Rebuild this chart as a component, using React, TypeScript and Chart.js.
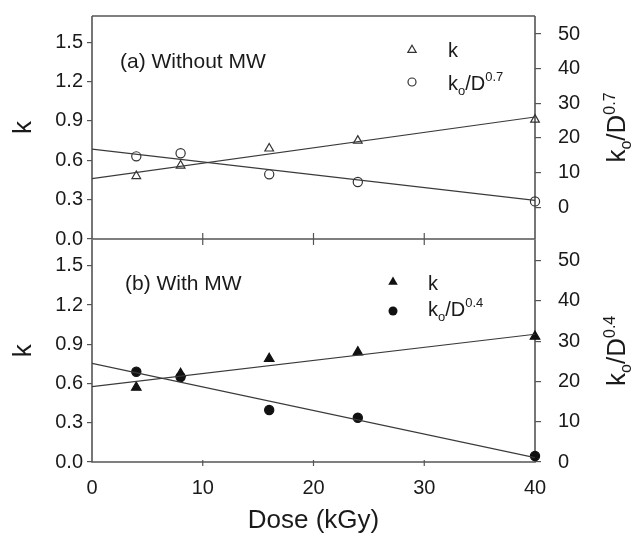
import React, { useEffect, useRef } from 'react';
import { Chart, registerables } from 'chart.js';

Chart.register(...registerables);

// ---------- data ----------
const DOSE = [4, 8, 16, 24, 40];
const FIT_DOSE = [0, 40];

const K_A = [0.48, 0.56, 0.69, 0.75, 0.91];
const KO_A = [14.7, 15.6, 9.5, 7.3, 1.7];
const FIT_K_A = [0.46, 0.93];
const FIT_KO_A = [16.8, 2.0];

const K_B = [0.57, 0.675, 0.79, 0.84, 0.96];
const KO_B = [22.4, 21.1, 12.9, 11.0, 1.5];
const FIT_K_B = [0.576, 0.977];
const FIT_KO_B = [24.5, 1.1];

const K_TICKS = [0, 0.3, 0.6, 0.9, 1.2, 1.5];
const KO_TICKS = [0, 10, 20, 30, 40, 50];
const DOSE_TICKS = [0, 10, 20, 30, 40];

const K_RANGE = [0, 1.7];
const KO_RANGE_A = [-9.15, 55.2];
const KO_RANGE_B = [0, 55.2];

const PANEL_TITLES = ['(a) Without MW', '(b) With MW'];
const EXPONENTS = ['0.7', '0.4'];

// ---------- style ----------
const FONT = '"Liberation Sans", Arial, Helvetica, sans-serif';
const TEXT = '#1a1a1a';
const AXIS = '#555555';
const LINE = '#3a3a3a';
const TICK_SIZE = 20;
const NOTE_SIZE = 21;
const TITLE_SIZE = 26;

type Seg = { text: string; size: number; dy: number };

function drawRich(ctx: CanvasRenderingContext2D, x: number, y: number, segs: Seg[], align: 'left' | 'center') {
  const widths = segs.map((s) => {
    ctx.font = `${s.size}px ${FONT}`;
    return ctx.measureText(s.text).width;
  });
  const total = widths.reduce((a, b) => a + b, 0);
  let cx = align === 'center' ? x - total / 2 : x;
  ctx.textAlign = 'left';
  ctx.textBaseline = 'alphabetic';
  segs.forEach((s, i) => {
    ctx.font = `${s.size}px ${FONT}`;
    ctx.fillText(s.text, cx, y + s.dy);
    cx += widths[i];
  });
}

function koSegs(exp: string, main: number, small: number, sub: number, sup: number): Seg[] {
  return [
    { text: 'k', size: main, dy: 0 },
    { text: 'o', size: small, dy: sub },
    { text: '/D', size: main, dy: 0 },
    { text: exp, size: small, dy: sup },
  ];
}

function drawSymbol(ctx: CanvasRenderingContext2D, style: 'triangle' | 'circle', x: number, y: number, r: number, filled: boolean) {
  ctx.beginPath();
  if (style === 'circle') {
    ctx.arc(x, y, r, 0, Math.PI * 2);
  } else {
    let rad = 0;
    ctx.moveTo(x + Math.sin(rad) * r, y - Math.cos(rad) * r);
    rad += (2 * Math.PI) / 3;
    ctx.lineTo(x + Math.sin(rad) * r, y - Math.cos(rad) * r);
    rad += (2 * Math.PI) / 3;
    ctx.lineTo(x + Math.sin(rad) * r, y - Math.cos(rad) * r);
    ctx.closePath();
  }
  if (filled) {
    ctx.fillStyle = '#111';
    ctx.fill();
  } else {
    ctx.strokeStyle = '#333';
    ctx.lineWidth = 1.2;
    ctx.stroke();
  }
}

function zeroPad(s: any) {
  s.paddingTop = 0;
  s.paddingBottom = 0;
  s.paddingLeft = 0;
  s.paddingRight = 0;
}

type PanelOpts = {
  idx: number;
  k: number[];
  ko: number[];
  fitK: number[];
  fitKo: number[];
  koRange: number[];
  padTop: number;
  xHeight: number;
  showX: boolean;
  filled: boolean;
  drawTop: boolean;
  tickUp: number;
  tickDown: number;
  titlePos: { x: number; y: number };
  legend: { symX: number; textX: number; tri: number; triBase: number; circ: number; circBase: number; triR: number; circR: number };
};

function makeConfig(p: PanelOpts): any {
  const tickFont = { size: TICK_SIZE, family: FONT };
  const decor = {
    id: 'decor' + p.idx,
    beforeDatasetsDraw(chart: any) {
      const { ctx, chartArea: a, scales } = chart;
      ctx.save();
      ctx.strokeStyle = AXIS;
      ctx.lineWidth = 1.6;
      ctx.beginPath();
      if (p.drawTop) {
        ctx.moveTo(a.left, a.top);
        ctx.lineTo(a.right, a.top);
      }
      ctx.moveTo(a.left, a.top);
      ctx.lineTo(a.left, a.bottom);
      ctx.lineTo(a.right, a.bottom);
      ctx.lineTo(a.right, a.top);
      ctx.stroke();
      ctx.lineWidth = 1.2;
      ctx.beginPath();
      scales.x.ticks.forEach((t: any) => {
        const px = scales.x.getPixelForValue(t.value);
        if (px > a.left + 1 && px < a.right - 1) {
          ctx.moveTo(px, a.bottom - p.tickUp);
          ctx.lineTo(px, a.bottom + p.tickDown);
        }
      });
      ctx.stroke();
      ctx.restore();
    },
    afterDraw(chart: any) {
      const { ctx, chartArea: a } = chart;
      ctx.save();
      ctx.fillStyle = TEXT;
      // panel label
      ctx.font = `${NOTE_SIZE}px ${FONT}`;
      ctx.textAlign = 'left';
      ctx.textBaseline = 'alphabetic';
      ctx.fillText(PANEL_TITLES[p.idx], p.titlePos.x, p.titlePos.y);
      // legend
      const L = p.legend;
      drawSymbol(ctx, 'triangle', L.symX, L.tri, L.triR, p.filled);
      drawSymbol(ctx, 'circle', L.symX, L.circ, L.circR, p.filled);
      ctx.fillStyle = TEXT;
      drawRich(ctx, L.textX, L.triBase, [{ text: 'k', size: TICK_SIZE, dy: 0 }], 'left');
      drawRich(ctx, L.textX, L.circBase, koSegs(EXPONENTS[p.idx], TICK_SIZE, 13, 5, -9), 'left');
      // right axis title
      ctx.translate(625, (a.top + a.bottom) / 2);
      ctx.rotate(-Math.PI / 2);
      drawRich(ctx, 0, 0, koSegs(EXPONENTS[p.idx], TITLE_SIZE, 16, 6, -10), 'center');
      ctx.restore();
    },
  };

  const markerK = {
    label: 'k',
    data: DOSE.map((x, i) => ({ x, y: p.k[i] })),
    yAxisID: 'yL',
    pointStyle: 'triangle',
    pointRadius: p.filled ? 5.5 : 5,
    borderColor: p.filled ? '#111' : '#333',
    backgroundColor: p.filled ? '#111' : 'rgba(0,0,0,0)',
    borderWidth: 1.2,
    showLine: false,
    clip: false,
  };
  const markerKo = {
    label: 'ko',
    data: DOSE.map((x, i) => ({ x, y: p.ko[i] })),
    yAxisID: 'yR',
    pointStyle: 'circle',
    pointRadius: 4.6,
    borderColor: p.filled ? '#111' : '#333',
    backgroundColor: p.filled ? '#111' : 'rgba(0,0,0,0)',
    borderWidth: 1.2,
    showLine: false,
    clip: false,
  };
  const fitK = {
    label: 'fitK',
    data: FIT_DOSE.map((x, i) => ({ x, y: p.fitK[i] })),
    yAxisID: 'yL',
    showLine: true,
    pointRadius: 0,
    borderColor: LINE,
    borderWidth: 1.2,
    fill: false,
  };
  const fitKo = {
    label: 'fitKo',
    data: FIT_DOSE.map((x, i) => ({ x, y: p.fitKo[i] })),
    yAxisID: 'yR',
    showLine: true,
    pointRadius: 0,
    borderColor: LINE,
    borderWidth: 1.2,
    fill: false,
  };

  return {
    type: 'scatter',
    data: { datasets: [fitK, fitKo, markerK, markerKo] },
    options: {
      responsive: false,
      animation: false,
      layout: { padding: { top: p.padTop, left: 0, right: 0, bottom: 0 } },
      plugins: { legend: { display: false }, tooltip: { enabled: false } },
      scales: {
        x: {
          type: 'linear',
          min: 0,
          max: 40,
          afterBuildTicks: (s: any) => {
            s.ticks = DOSE_TICKS.map((v) => ({ value: v }));
          },
          afterFit: (s: any) => {
            s.height = p.xHeight;
            zeroPad(s);
          },
          grid: { display: false, drawTicks: false },
          border: { display: false },
          ticks: { display: p.showX, padding: 14, font: tickFont, color: TEXT, maxRotation: 0 },
          title: {
            display: p.showX,
            text: 'Dose (kGy)',
            color: TEXT,
            font: { size: TITLE_SIZE, family: FONT },
            padding: { top: 0, bottom: 0 },
          },
        },
        yL: {
          type: 'linear',
          position: 'left',
          min: K_RANGE[0],
          max: K_RANGE[1],
          afterBuildTicks: (s: any) => {
            s.ticks = K_TICKS.map((v) => ({ value: v }));
          },
          afterFit: (s: any) => {
            s.width = 92;
            zeroPad(s);
          },
          grid: { display: true, drawOnChartArea: false, drawTicks: true, tickLength: 5, color: AXIS, lineWidth: 1.2 },
          border: { display: false },
          ticks: { padding: 4, font: tickFont, color: TEXT, callback: (v: any) => Number(v).toFixed(1) },
          title: {
            display: true,
            text: 'k',
            color: TEXT,
            font: { size: TITLE_SIZE, family: FONT },
            padding: { top: 8, bottom: 0 },
          },
        },
        yR: {
          type: 'linear',
          position: 'right',
          min: p.koRange[0],
          max: p.koRange[1],
          afterBuildTicks: (s: any) => {
            s.ticks = KO_TICKS.map((v) => ({ value: v }));
          },
          afterFit: (s: any) => {
            s.width = 100;
            zeroPad(s);
          },
          grid: { display: true, drawOnChartArea: false, drawTicks: true, tickLength: 6, color: AXIS, lineWidth: 1.2 },
          border: { display: false },
          ticks: { padding: 17, font: tickFont, color: TEXT, callback: (v: any) => String(v) },
        },
      },
    },
    plugins: [decor],
  };
}

export default function App() {
  const topRef = useRef<HTMLCanvasElement>(null);
  const botRef = useRef<HTMLCanvasElement>(null);

  useEffect(() => {
    const top = new Chart(
      topRef.current!,
      makeConfig({
        idx: 0,
        k: K_A,
        ko: KO_A,
        fitK: FIT_K_A,
        fitKo: FIT_KO_A,
        koRange: KO_RANGE_A,
        padTop: 16,
        xHeight: 7,
        showX: false,
        filled: false,
        drawTop: true,
        tickUp: 6,
        tickDown: 6,
        titlePos: { x: 120, y: 68 },
        legend: { symX: 412, textX: 448, tri: 50, triBase: 57, circ: 82, circBase: 90, triR: 4.8, circR: 4 },
      })
    );
    const bot = new Chart(
      botRef.current!,
      makeConfig({
        idx: 1,
        k: K_B,
        ko: KO_B,
        fitK: FIT_K_B,
        fitKo: FIT_KO_B,
        koRange: KO_RANGE_B,
        padTop: 6,
        xHeight: 74,
        showX: true,
        filled: true,
        drawTop: false,
        tickUp: 2,
        tickDown: 4,
        titlePos: { x: 125, y: 290 - 233 },
        legend: { symX: 393, textX: 428, tri: 282 - 233, triBase: 290 - 233, circ: 311 - 233, circBase: 316 - 233, triR: 5.5, circR: 4.5 },
      })
    );
    return () => {
      top.destroy();
      bot.destroy();
    };
  }, []);

  return (
    <div style={{ position: 'fixed', left: 0, top: 0, width: 635, height: 536, background: '#fff' }}>
      <canvas ref={topRef} width={635} height={246} style={{ position: 'absolute', left: 0, top: 0 }} />
      <canvas ref={botRef} width={635} height={303} style={{ position: 'absolute', left: 0, top: 233 }} />
    </div>
  );
}
